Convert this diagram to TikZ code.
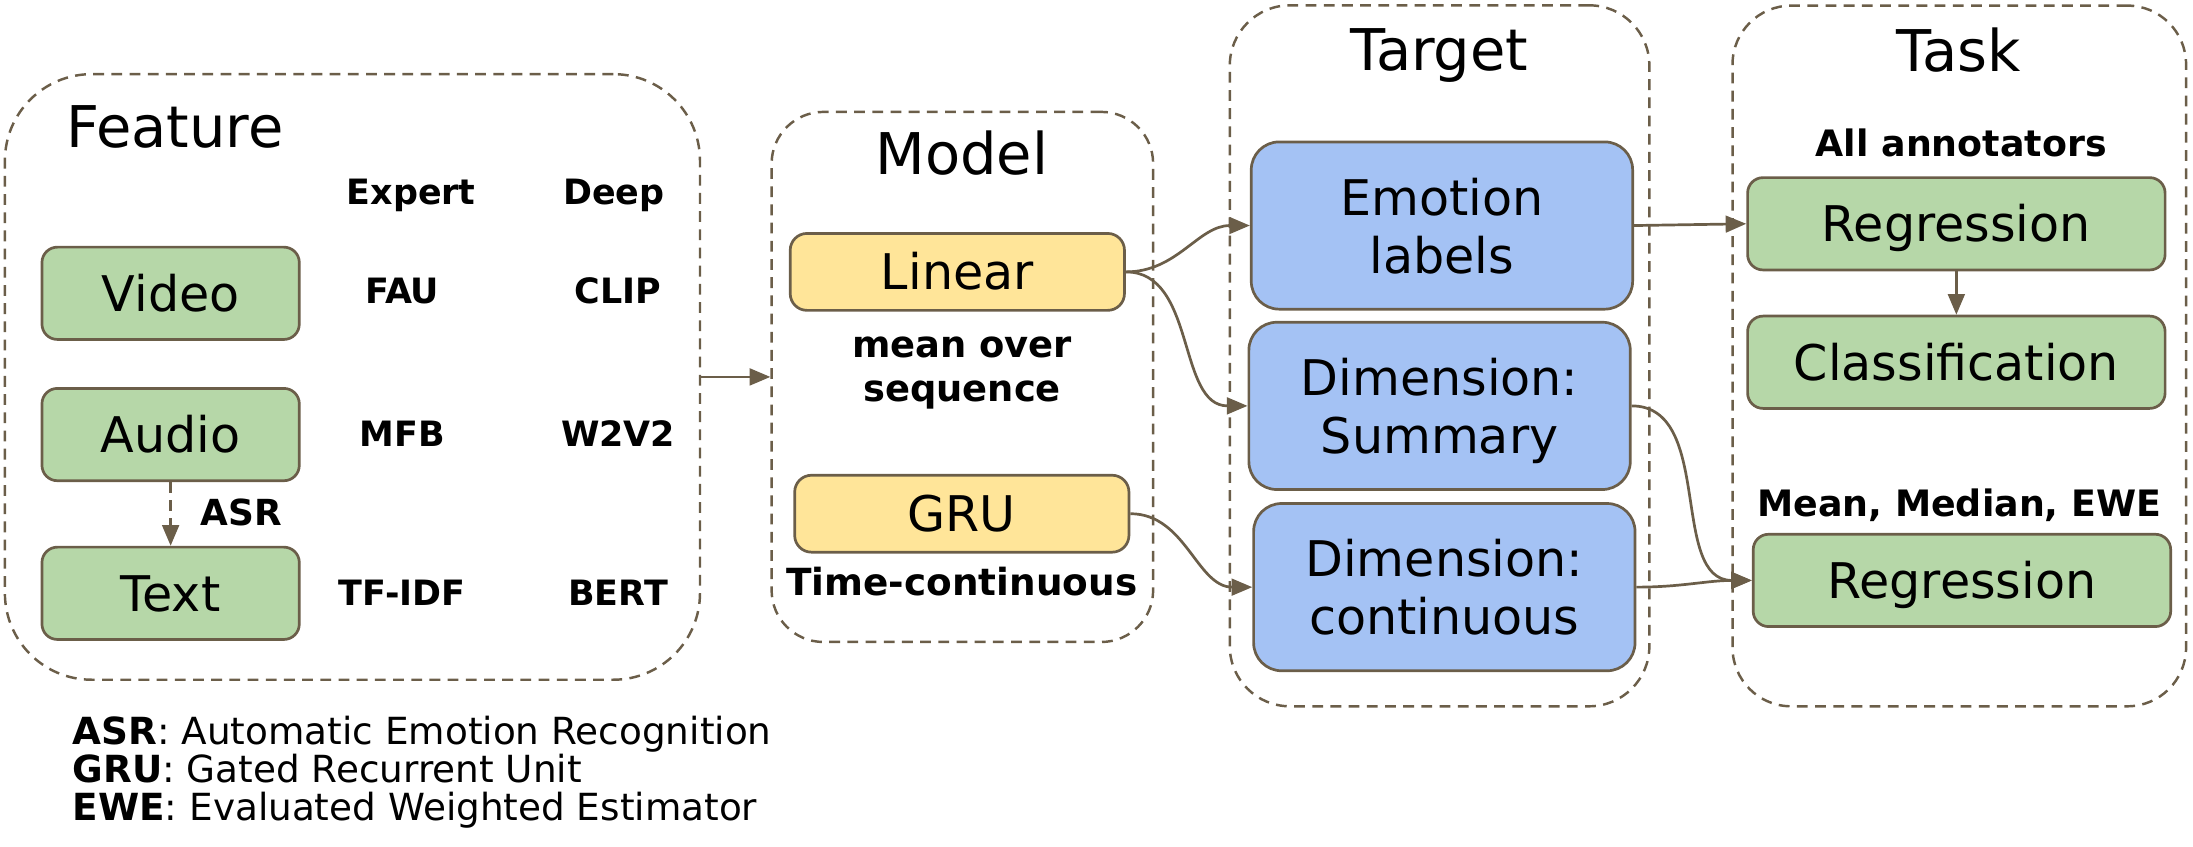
\documentclass[tikz,border=0pt]{standalone}
\usepackage{fontspec}
\setmainfont{DejaVu Sans}
\usepackage{tikz}
\usetikzlibrary{arrows.meta}

\begin{document}
\begin{tikzpicture}[x=0.1mm,y=-0.1mm,
  frame/.style={draw=lineColor, line width=0.5pt, dash pattern=on 2.2pt off 1.5pt, inner sep=0pt},
  box/.style={draw=lineColor, line width=0.55pt, inner sep=0pt, font=\fontsize{10}{11.8}\selectfont},
  greenbox/.style={box, fill=greenColor, rounded corners=1.1mm, text height=7.3pt, text depth=0pt},
  yellowbox/.style={box, fill=yellowColor, rounded corners=1.2mm, text height=7.3pt, text depth=0pt, minimum width=23.9mm, minimum height=5.5mm},
  bluebox/.style={box, fill=blueColor, rounded corners=2.0mm, align=center, text depth=0pt, minimum width=27.27mm, minimum height=11.96mm},
  title/.style={anchor=base, font=\fontsize{11.7}{14}\selectfont},
  lab/.style={anchor=base, font=\fontsize{7.1}{8.5}\selectfont\bfseries},
  legend/.style={anchor=base west, inner sep=0pt, font=\fontsize{7.6}{9}\selectfont},
  conn/.style={draw=lineColor, line width=0.55pt, -{Triangle[length=4.2pt,width=3.4pt]}}]
\definecolor{lineColor}{RGB}{107,94,73}
\definecolor{greenColor}{RGB}{182,215,168}
\definecolor{yellowColor}{RGB}{255,229,153}
\definecolor{blueColor}{RGB}{164,194,244}
\useasboundingbox (0,0) rectangle (1568,605.6);

\node[frame, rounded corners=6.2mm, minimum width=49.7mm, minimum height=43.3mm] (feature) at (252,269.5) {};
\node[frame, rounded corners=3.7mm, minimum width=27.28mm, minimum height=37.9mm] (model) at (688.1,269.5) {};
\node[frame, rounded corners=4.3mm, minimum width=30.0mm, minimum height=50.12mm] (target) at (1029.3,254.4) {};
\node[frame, rounded corners=4.2mm, minimum width=32.43mm, minimum height=50.1mm] (task) at (1400.9,254.5) {};

\node[title] (featureTitle) at (125,105.7) {Feature};
\node[title] (modelTitle) at (687.7,125.1) {Model};
\node[title] (targetTitle) at (1029.2,50.4) {Target};
\node[title] (taskTitle) at (1400.3,50.9) {Task};

\node[greenbox, minimum width=18.4mm, minimum height=6.6mm] (video) at (122,209.7) {Video};
\node[greenbox, minimum width=18.4mm, minimum height=6.6mm] (audio) at (122,310.7) {Audio};
\node[greenbox, minimum width=18.4mm, minimum height=6.6mm] (text) at (122,424.2) {Text};
\node[lab] (expert) at (294,146.5) {Expert};
\node[lab] (deep) at (439,146.5) {Deep};
\foreach \y/\e/\d/\n in {217/FAU/CLIP/video, 319/MFB/W2V2/audio, 432.7/TF-IDF/BERT/text}{
  \node[lab] (expert-\n) at (287.6,\y) {\e};
  \node[lab] (deep-\n) at (442,\y) {\d};
}
\node[lab, font=\fontsize{7.3}{8.7}\selectfont\bfseries] (asr) at (172.7,375.6) {ASR};

\node[yellowbox] (linear) at (684.5,194.4) {Linear};
\node[yellowbox] (gru) at (687.7,367.3) {GRU};
\node[anchor=base, align=center, font=\fontsize{7.5}{9.1}\selectfont\bfseries] (meanSeq) at (687.9,287.3) {mean over\\sequence};
\node[lab, font=\fontsize{7.6}{9}\selectfont\bfseries] (timeCont) at (687.7,426) {Time-continuous};

\node[bluebox] (emotion) at (1031,161.25) {Emotion\\labels};
\node[bluebox] (summary) at (1029.3,290.2) {Dimension:\\Summary};
\node[bluebox] (continuous) at (1032.7,419.8) {Dimension:\\continuous};

\node[lab, font=\fontsize{7.4}{8.8}\selectfont\bfseries] (allAnn) at (1402.3,111.6) {All annotators};
\node[greenbox, minimum width=29.85mm, minimum height=6.6mm] (reg1) at (1398.8,160) {Regression};
\node[greenbox, minimum width=29.85mm, minimum height=6.6mm] (class) at (1398.8,259) {Classification};
\node[lab, font=\fontsize{7.4}{8.8}\selectfont\bfseries] (meanMed) at (1400.9,369.3) {Mean, Median, EWE};
\node[greenbox, minimum width=29.85mm, minimum height=6.6mm] (reg2) at (1402.8,415) {Regression};

\draw[conn] (feature) -- (model);
\draw[conn, dash pattern=on 2.2pt off 1.5pt] (audio) -- (text);
\draw[conn] (linear.east) to[out=0,in=180] (emotion.west);
\draw[conn] (linear.east) to[out=0,in=180] (summary.west);
\draw[conn] (gru.east) to[out=0,in=180] (continuous.west);
\draw[conn] (emotion.east) -- (reg1.west);
\draw[conn] (reg1) -- (class);
\draw[conn] (summary.east) to[out=0,in=180] (reg2.west);
\draw[conn] (continuous.east) to[out=0,in=180] (reg2.west);

\foreach \y/\a/\t [count=\i] in {532/ASR/Automatic Emotion Recognition, 559.5/GRU/Gated Recurrent Unit, 587/EWE/Evaluated Weighted Estimator}
  \node[legend] (legend\i) at (51.3,\y) {\textbf{\a}: \t};
\end{tikzpicture}
\end{document}
